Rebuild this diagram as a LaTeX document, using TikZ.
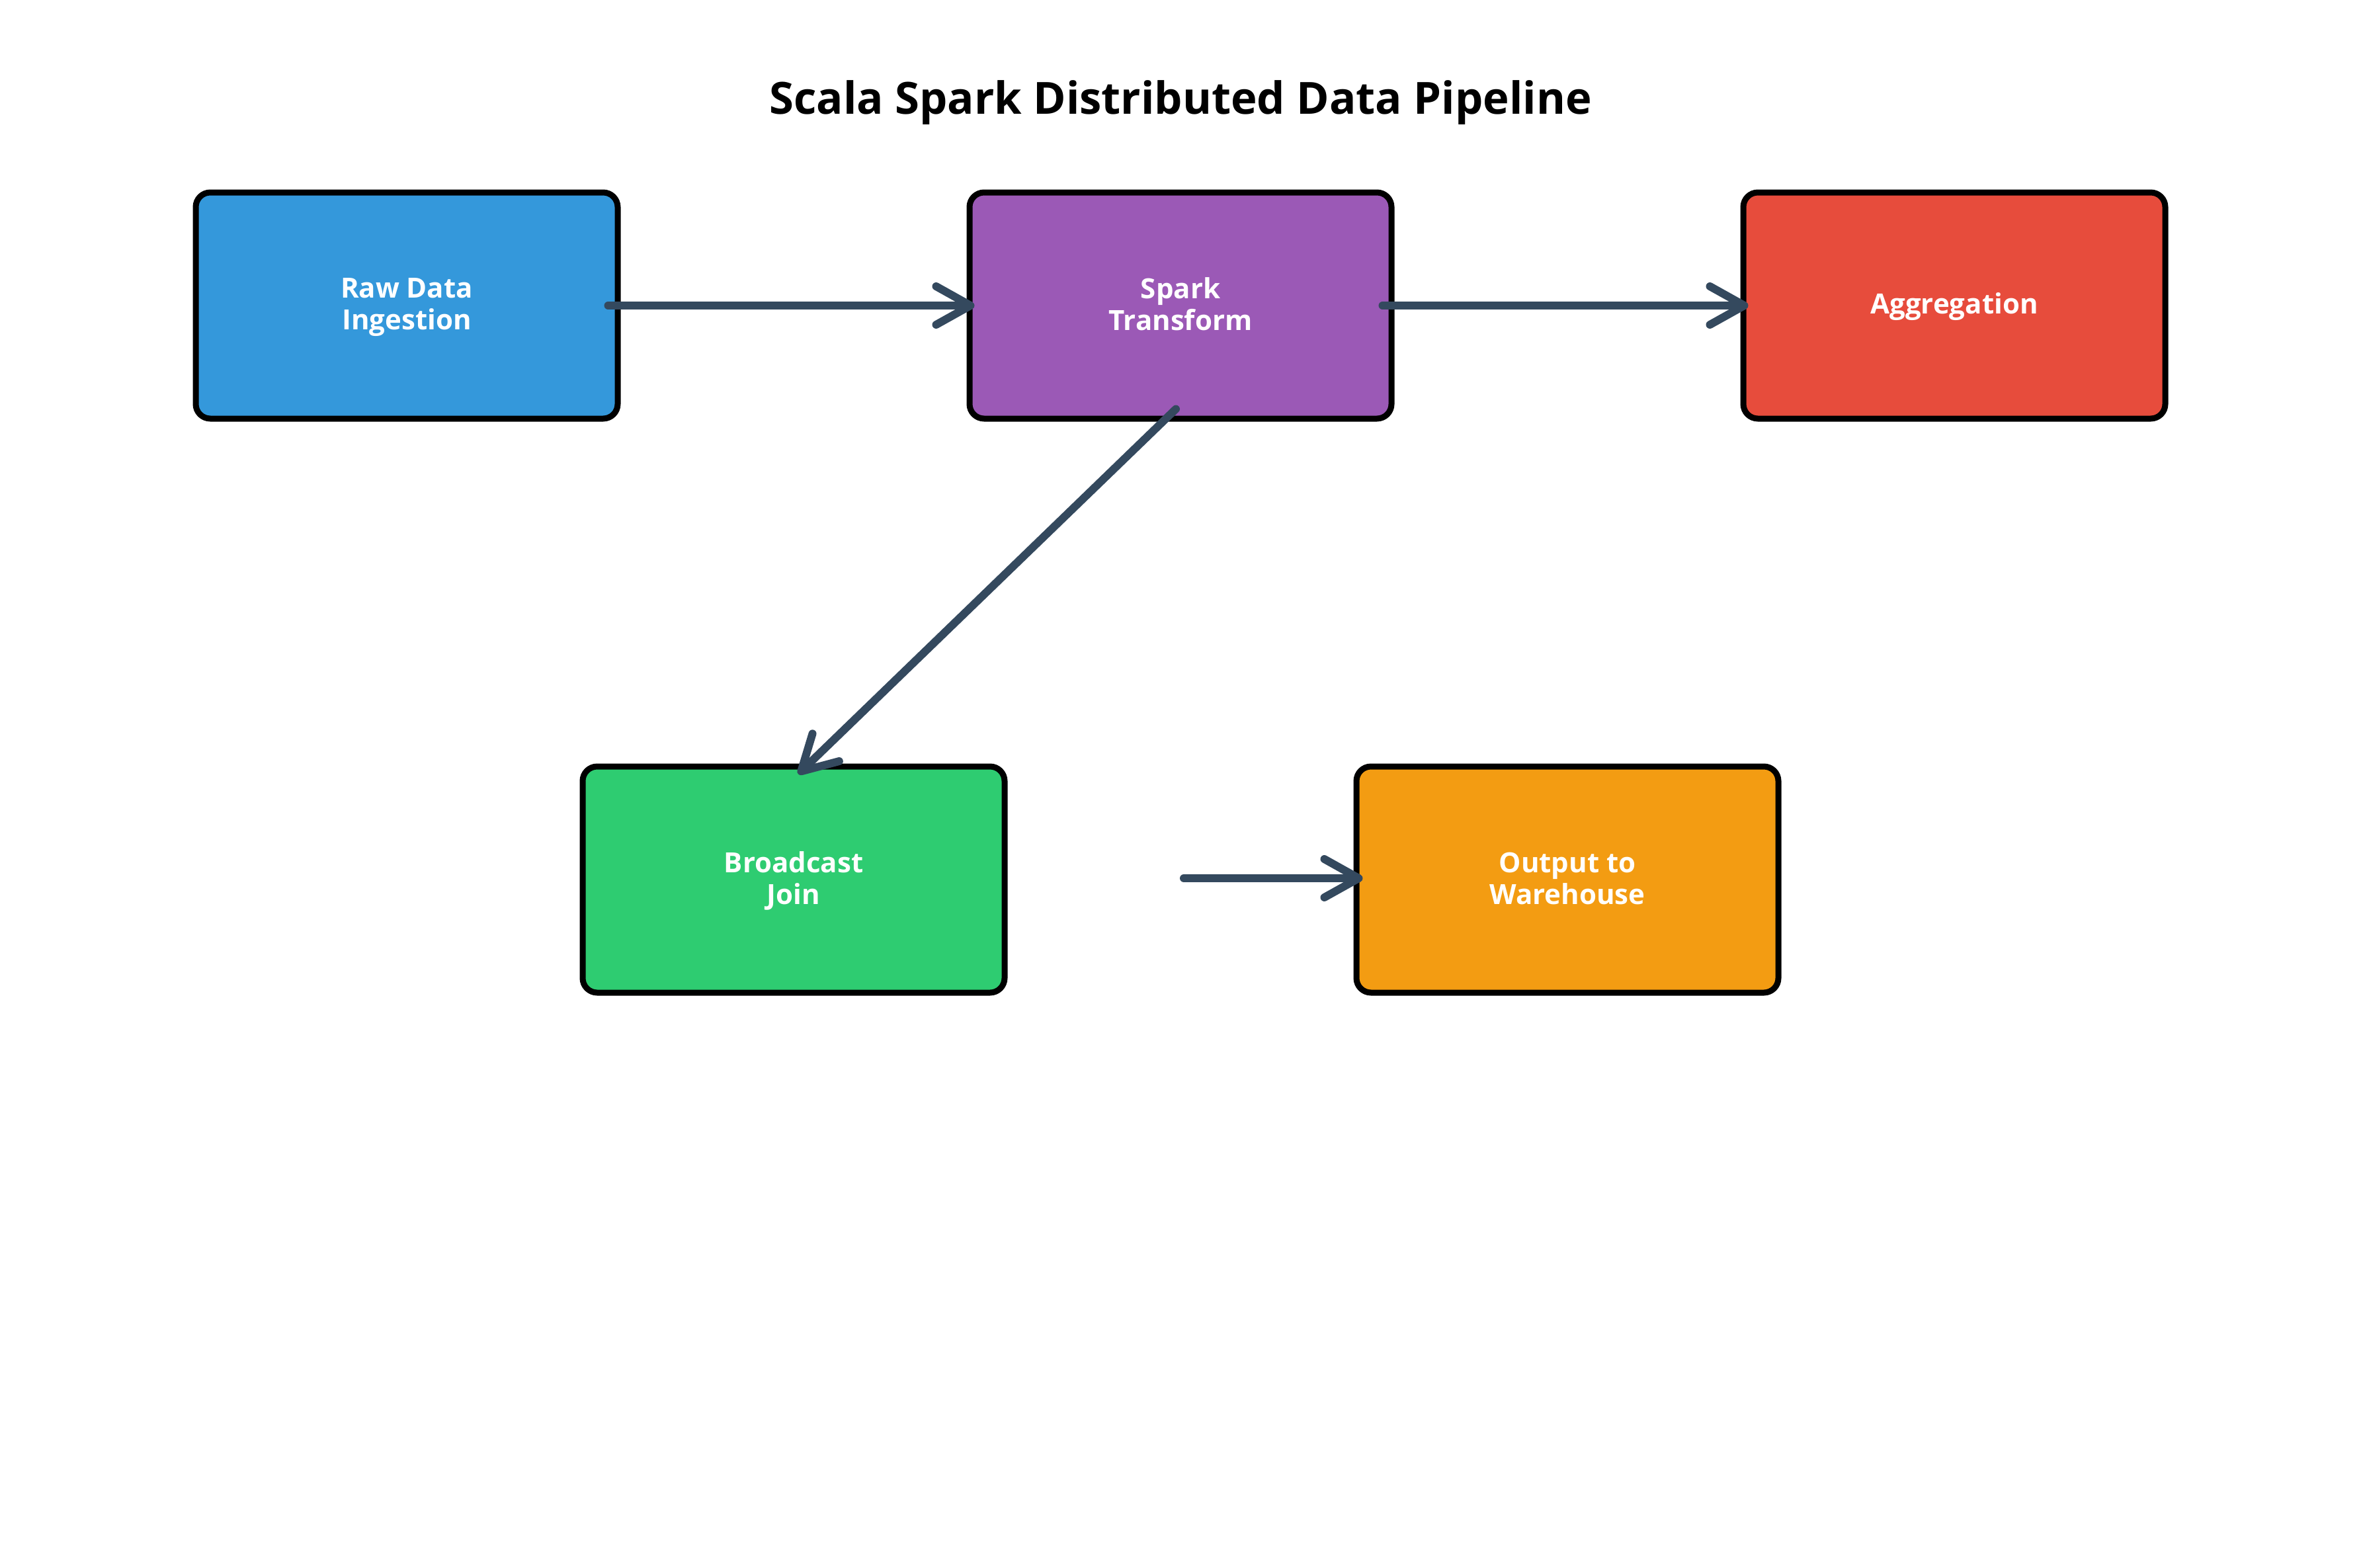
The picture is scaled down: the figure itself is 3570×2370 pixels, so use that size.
\documentclass[tikz,border=0pt]{standalone}
\usepackage{fontspec}
\setmainfont{Open Sans}
\usetikzlibrary{arrows.meta,calc}
\definecolor{cblue}{HTML}{3498DB}
\definecolor{cpurple}{HTML}{9B59B6}
\definecolor{cred}{HTML}{E74C3C}
\definecolor{cgreen}{HTML}{2ECC71}
\definecolor{corange}{HTML}{F39C12}
\definecolor{carrow}{HTML}{34495E}
\newcommand\lnst{\rule[-10pt]{0pt}{46pt}}
\begin{document}
\begin{tikzpicture}[x=1pt,y=-1pt,
  box/.style={draw=black, line width=9pt, rounded corners=22pt,
    minimum width=638pt, minimum height=342pt, inner sep=0pt,
    align=center, text=white, font=\fontsize{42}{48}\selectfont\bfseries},
  conn/.style={draw=carrow, line width=12pt, line cap=round,
    -{Straight Barb[length=52pt,width=58pt,round]}}]
\fill[white] (0,0) rectangle (3570,2370);
\useasboundingbox (0,0) rectangle (3570,2370);
\node[font=\fontsize{67}{80}\selectfont\bfseries] (title) at (1785,155) {Scala Spark Distributed Data Pipeline};
\node[box, fill=cblue] (raw) at (615,462) {\lnst Raw Data\\\lnst Ingestion};
\node[box, fill=cpurple] (spark) at (1785,462) {\lnst Spark\\\lnst Transform};
\node[box, fill=cred] (agg) at (2955,462) {\lnst Aggregation};
\node[box, fill=cgreen] (bcast) at (1200,1330) {\lnst Broadcast\\\lnst Join};
\node[box, fill=corange] (out) at (2370,1330) {\lnst Output to\\\lnst Warehouse};
\coordinate (jstart) at (1790,1328);
\draw[conn] ($(raw.east)+(-19,0)$) -- ($(spark.west)+(12,0)$);
\draw[conn] ($(spark.east)+(-18,0)$) -- ($(agg.west)+(12,0)$);
\draw[conn] ($(spark.south)+(-7,-19)$) -- ($(bcast.north)+(7,16)$);
\draw[conn] (jstart) -- ($(out.west)+(14,-2)$);
\end{tikzpicture}
\end{document}
